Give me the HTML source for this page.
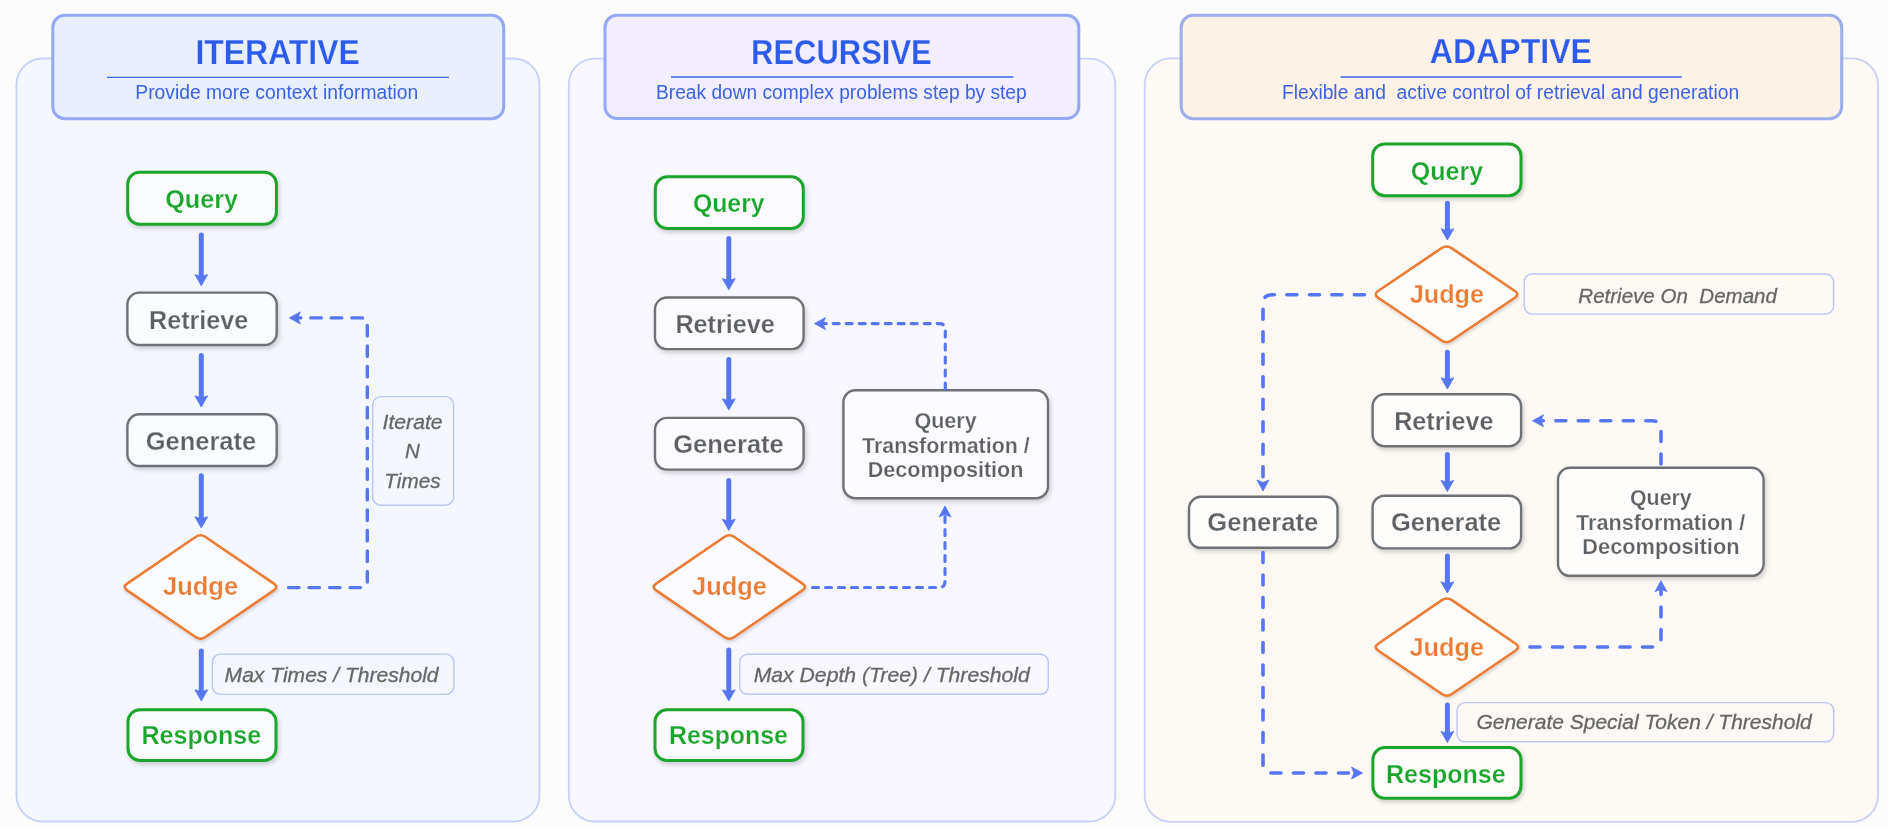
<!DOCTYPE html><html><head><meta charset="utf-8"><style>html,body{margin:0;padding:0;background:#ffffff;}svg{display:block;filter:blur(0.4px)}</style></head><body>
<svg width="1892" height="840" viewBox="0 0 1892 840">
<defs>
<filter id="sh" x="-10%" y="-10%" width="130%" height="140%"><feDropShadow dx="1.5" dy="2.5" stdDeviation="2" flood-color="#000" flood-opacity="0.18"/></filter>
<filter id="shd" x="-10%" y="-10%" width="130%" height="140%"><feDropShadow dx="1" dy="2" stdDeviation="1.8" flood-color="#000" flood-opacity="0.15"/></filter>
</defs>
<rect x="0" y="0" width="1887" height="830" fill="#fcfcfc"/>
<rect x="16.5" y="58.5" width="523.0" height="763.0" rx="26" fill="#f4f7ff" stroke="#c6d1fb" stroke-width="1.8"/>
<rect x="568.8" y="58.6" width="546.5" height="762.9" rx="26" fill="#f8f6ff" stroke="#c6d1fb" stroke-width="1.8"/>
<rect x="1144.7" y="58.4" width="733.3" height="763.4" rx="26" fill="#fdf9f4" stroke="#c8d0f4" stroke-width="1.8"/>
<rect x="52.8" y="15.3" width="450.9" height="103.4" rx="12" fill="#e9efff" stroke="#93a8f6" stroke-width="3"/>
<rect x="605" y="15.3" width="473.8" height="103.2" rx="12" fill="#f2edff" stroke="#93a8f6" stroke-width="3"/>
<rect x="1181.2" y="15.3" width="660.5" height="103.4" rx="12" fill="#fcf2e5" stroke="#9badea" stroke-width="3"/>
<line x1="107" y1="77.3" x2="449" y2="77.3" stroke="#3d66e8" stroke-width="1.3"/>
<line x1="671" y1="77.0" x2="1013.5" y2="77.0" stroke="#3d66e8" stroke-width="1.3"/>
<line x1="1340.5" y1="77.0" x2="1681.8" y2="77.0" stroke="#3d66e8" stroke-width="1.3"/>
<rect x="127.7" y="172.2" width="148.7" height="52.1" rx="12" fill="#fbfcff" stroke="#1aa52b" stroke-width="3.0" filter="url(#sh)"/>
<rect x="127.4" y="292.6" width="149.3" height="52.4" rx="12" fill="#fbfcff" stroke="#6e7174" stroke-width="2.4" filter="url(#sh)"/>
<rect x="127.4" y="414.3" width="149.3" height="51.7" rx="12" fill="#fbfcff" stroke="#6e7174" stroke-width="2.4" filter="url(#sh)"/>
<rect x="128.0" y="709.7" width="148.0" height="50.7" rx="12" fill="#fbfcff" stroke="#1aa52b" stroke-width="3.0" filter="url(#sh)"/>
<rect x="655.3" y="176.8" width="148.0" height="51.7" rx="12" fill="#fcfbff" stroke="#1aa52b" stroke-width="3.0" filter="url(#sh)"/>
<rect x="655.0" y="297.5" width="148.6" height="51.6" rx="12" fill="#fcfbff" stroke="#6e7174" stroke-width="2.4" filter="url(#sh)"/>
<rect x="655.0" y="417.9" width="148.6" height="51.7" rx="12" fill="#fcfbff" stroke="#6e7174" stroke-width="2.4" filter="url(#sh)"/>
<rect x="655.0" y="709.8" width="148.0" height="50.7" rx="12" fill="#fcfbff" stroke="#1aa52b" stroke-width="3.0" filter="url(#sh)"/>
<rect x="843.4" y="390.3" width="204.6" height="107.9" rx="12" fill="#fcfbff" stroke="#6e7174" stroke-width="2.4" filter="url(#sh)"/>
<rect x="1372.7" y="143.9" width="148.3" height="51.8" rx="12" fill="#fefdfb" stroke="#1aa52b" stroke-width="3.0" filter="url(#sh)"/>
<rect x="1372.6" y="394.3" width="148.5" height="51.9" rx="12" fill="#fefdfb" stroke="#6e7174" stroke-width="2.4" filter="url(#sh)"/>
<rect x="1372.6" y="495.7" width="148.5" height="52.7" rx="12" fill="#fefdfb" stroke="#6e7174" stroke-width="2.4" filter="url(#sh)"/>
<rect x="1189.0" y="496.8" width="148.5" height="51.0" rx="12" fill="#fefdfb" stroke="#6e7174" stroke-width="2.4" filter="url(#sh)"/>
<rect x="1558.0" y="467.8" width="205.6" height="108.0" rx="12" fill="#fefdfb" stroke="#6e7174" stroke-width="2.4" filter="url(#sh)"/>
<rect x="1372.9" y="747.6" width="148.1" height="50.7" rx="12" fill="#fefdfb" stroke="#1aa52b" stroke-width="3.0" filter="url(#sh)"/>
<path d="M195.54,536.98 Q200.50,533.60 205.46,536.98 L273.84,583.62 Q278.80,587.00 273.84,590.38 L205.46,637.02 Q200.50,640.40 195.54,637.02 L127.16,590.38 Q122.20,587.00 127.16,583.62 Z" fill="#fbfcff" stroke="#ec7c34" stroke-width="2.6" stroke-linejoin="round" filter="url(#shd)"/>
<path d="M724.35,536.99 Q729.30,533.60 734.25,536.99 L802.45,583.61 Q807.40,587.00 802.45,590.39 L734.25,637.01 Q729.30,640.40 724.35,637.01 L656.15,590.39 Q651.20,587.00 656.15,583.61 Z" fill="#fcfbff" stroke="#ec7c34" stroke-width="2.6" stroke-linejoin="round" filter="url(#shd)"/>
<path d="M1441.53,248.16 Q1446.50,244.80 1451.47,248.16 L1514.83,290.99 Q1519.80,294.35 1514.83,297.71 L1451.47,340.54 Q1446.50,343.90 1441.53,340.54 L1378.17,297.71 Q1373.20,294.35 1378.17,290.99 Z" fill="#fefdfb" stroke="#ec7c34" stroke-width="2.6" stroke-linejoin="round" filter="url(#shd)"/>
<path d="M1441.94,600.18 Q1446.90,596.80 1451.86,600.18 L1515.64,643.72 Q1520.60,647.10 1515.64,650.48 L1451.86,694.02 Q1446.90,697.40 1441.94,694.02 L1378.16,650.48 Q1373.20,647.10 1378.16,643.72 Z" fill="#fefdfb" stroke="#ec7c34" stroke-width="2.6" stroke-linejoin="round" filter="url(#shd)"/>
<rect x="212.4" y="654.1" width="241.5" height="40.3" rx="8" fill="none" stroke="#b9c6f7" stroke-width="1.4"/>
<rect x="372.7" y="396.6" width="80.9" height="108.6" rx="8" fill="none" stroke="#b9c6f7" stroke-width="1.4"/>
<rect x="739.7" y="654.2" width="308.6" height="40.1" rx="8" fill="none" stroke="#b9c6f7" stroke-width="1.4"/>
<rect x="1524.2" y="274.0" width="309.4" height="40.1" rx="8" fill="none" stroke="#b9c6f7" stroke-width="1.4"/>
<rect x="1457.0" y="702.6" width="376.7" height="39.2" rx="8" fill="none" stroke="#b9c6f7" stroke-width="1.4"/>
<line x1="201.3" y1="235.1" x2="201.3" y2="279.8" stroke="#5676f2" stroke-width="5" stroke-linecap="round"/>
<path d="M201.30,285.80 L194.90,274.60 L201.30,276.60 L207.70,274.60 Z" fill="#5676f2" stroke="#5676f2" stroke-width="0.8" stroke-linejoin="round"/>
<line x1="201.3" y1="355.5" x2="201.3" y2="401.0" stroke="#5676f2" stroke-width="5" stroke-linecap="round"/>
<path d="M201.30,407.00 L194.90,395.80 L201.30,397.80 L207.70,395.80 Z" fill="#5676f2" stroke="#5676f2" stroke-width="0.8" stroke-linejoin="round"/>
<line x1="201.3" y1="475.8" x2="201.3" y2="522.0" stroke="#5676f2" stroke-width="5" stroke-linecap="round"/>
<path d="M201.30,528.00 L194.90,516.80 L201.30,518.80 L207.70,516.80 Z" fill="#5676f2" stroke="#5676f2" stroke-width="0.8" stroke-linejoin="round"/>
<line x1="201.3" y1="651.0" x2="201.3" y2="695.0" stroke="#5676f2" stroke-width="5" stroke-linecap="round"/>
<path d="M201.30,701.00 L194.90,689.80 L201.30,691.80 L207.70,689.80 Z" fill="#5676f2" stroke="#5676f2" stroke-width="0.8" stroke-linejoin="round"/>
<line x1="728.8" y1="238.5" x2="728.8" y2="283.8" stroke="#5676f2" stroke-width="5" stroke-linecap="round"/>
<path d="M728.80,289.80 L722.40,278.60 L728.80,280.60 L735.20,278.60 Z" fill="#5676f2" stroke="#5676f2" stroke-width="0.8" stroke-linejoin="round"/>
<line x1="728.8" y1="359.5" x2="728.8" y2="404.0" stroke="#5676f2" stroke-width="5" stroke-linecap="round"/>
<path d="M728.80,410.00 L722.40,398.80 L728.80,400.80 L735.20,398.80 Z" fill="#5676f2" stroke="#5676f2" stroke-width="0.8" stroke-linejoin="round"/>
<line x1="728.8" y1="480.5" x2="728.8" y2="524.5" stroke="#5676f2" stroke-width="5" stroke-linecap="round"/>
<path d="M728.80,530.50 L722.40,519.30 L728.80,521.30 L735.20,519.30 Z" fill="#5676f2" stroke="#5676f2" stroke-width="0.8" stroke-linejoin="round"/>
<line x1="728.8" y1="650.0" x2="728.8" y2="695.0" stroke="#5676f2" stroke-width="5" stroke-linecap="round"/>
<path d="M728.80,701.00 L722.40,689.80 L728.80,691.80 L735.20,689.80 Z" fill="#5676f2" stroke="#5676f2" stroke-width="0.8" stroke-linejoin="round"/>
<line x1="1447.4" y1="203.2" x2="1447.4" y2="234.0" stroke="#5676f2" stroke-width="5" stroke-linecap="round"/>
<path d="M1447.40,240.00 L1441.00,228.80 L1447.40,230.80 L1453.80,228.80 Z" fill="#5676f2" stroke="#5676f2" stroke-width="0.8" stroke-linejoin="round"/>
<line x1="1447.4" y1="352.2" x2="1447.4" y2="383.0" stroke="#5676f2" stroke-width="5" stroke-linecap="round"/>
<path d="M1447.40,389.00 L1441.00,377.80 L1447.40,379.80 L1453.80,377.80 Z" fill="#5676f2" stroke="#5676f2" stroke-width="0.8" stroke-linejoin="round"/>
<line x1="1447.4" y1="454.5" x2="1447.4" y2="485.6" stroke="#5676f2" stroke-width="5" stroke-linecap="round"/>
<path d="M1447.40,491.60 L1441.00,480.40 L1447.40,482.40 L1453.80,480.40 Z" fill="#5676f2" stroke="#5676f2" stroke-width="0.8" stroke-linejoin="round"/>
<line x1="1447.4" y1="556.0" x2="1447.4" y2="587.0" stroke="#5676f2" stroke-width="5" stroke-linecap="round"/>
<path d="M1447.40,593.00 L1441.00,581.80 L1447.40,583.80 L1453.80,581.80 Z" fill="#5676f2" stroke="#5676f2" stroke-width="0.8" stroke-linejoin="round"/>
<line x1="1447.4" y1="704.9" x2="1447.4" y2="736.6" stroke="#5676f2" stroke-width="5" stroke-linecap="round"/>
<path d="M1447.40,742.60 L1441.00,731.40 L1447.40,733.40 L1453.80,731.40 Z" fill="#5676f2" stroke="#5676f2" stroke-width="0.8" stroke-linejoin="round"/>
<path d="M288.5,587.6 L361.30,587.60 Q367.3,587.6 367.30,581.60 L367.30,323.90 Q367.3,317.9 361.30,317.90 L298.30,317.90" fill="none" stroke="#5676f2" stroke-width="3.4" stroke-linecap="round" stroke-dasharray="10.5 10"/>
<path d="M289.30,317.90 L300.30,311.90 L297.80,317.90 L300.30,323.90 Z" fill="#5676f2" stroke="#5676f2" stroke-width="0.8" stroke-linejoin="round"/>
<path d="M945.3,389.0 L945.30,329.60 Q945.3,323.6 939.30,323.60 L823.40,323.60" fill="none" stroke="#5676f2" stroke-width="3.1" stroke-linecap="round" stroke-dasharray="6 7"/>
<path d="M814.40,323.60 L825.40,317.60 L822.90,323.60 L825.40,329.60 Z" fill="#5676f2" stroke="#5676f2" stroke-width="0.8" stroke-linejoin="round"/>
<path d="M812.5,587.5 L939.00,587.50 Q945.0,587.5 945.00,581.50 L945.00,515.00" fill="none" stroke="#5676f2" stroke-width="3.1" stroke-linecap="round" stroke-dasharray="6 7"/>
<path d="M945.00,506.00 L951.00,517.00 L945.00,514.50 L939.00,517.00 Z" fill="#5676f2" stroke="#5676f2" stroke-width="0.8" stroke-linejoin="round"/>
<path d="M1364.4,294.7 L1272.00,294.70 Q1263.0,294.7 1263.00,303.70 L1263.00,482.00" fill="none" stroke="#5676f2" stroke-width="3.6" stroke-linecap="round" stroke-dasharray="10 12.5"/>
<path d="M1263.00,491.00 L1257.00,480.00 L1263.00,482.50 L1269.00,480.00 Z" fill="#5676f2" stroke="#5676f2" stroke-width="0.8" stroke-linejoin="round"/>
<path d="M1263.0,552.5 L1263.00,764.00 Q1263.0,773.0 1272.00,773.00 L1353.50,773.00" fill="none" stroke="#5676f2" stroke-width="3.6" stroke-linecap="round" stroke-dasharray="10 12.5"/>
<path d="M1362.50,773.00 L1351.50,779.00 L1354.00,773.00 L1351.50,767.00 Z" fill="#5676f2" stroke="#5676f2" stroke-width="0.8" stroke-linejoin="round"/>
<path d="M1661.0,464.0 L1661.00,429.70 Q1661.0,420.7 1652.00,420.70 L1541.50,420.70" fill="none" stroke="#5676f2" stroke-width="3.6" stroke-linecap="round" stroke-dasharray="10 12.5"/>
<path d="M1532.50,420.70 L1543.50,414.70 L1541.00,420.70 L1543.50,426.70 Z" fill="#5676f2" stroke="#5676f2" stroke-width="0.8" stroke-linejoin="round"/>
<path d="M1530.0,647.0 L1652.00,647.00 Q1661.0,647.0 1661.00,638.00 L1661.00,589.70" fill="none" stroke="#5676f2" stroke-width="3.6" stroke-linecap="round" stroke-dasharray="10 12.5"/>
<path d="M1661.00,580.70 L1667.00,591.70 L1661.00,589.20 L1655.00,591.70 Z" fill="#5676f2" stroke="#5676f2" stroke-width="0.8" stroke-linejoin="round"/>
<text x="195.47" y="63.5" textLength="164.30" lengthAdjust="spacingAndGlyphs" font-family="Liberation Sans" font-weight="bold" font-style="normal" font-size="34.5" fill="#2c5bec" stroke="#e9efff" stroke-width="0.25" xml:space="preserve">ITERATIVE</text>
<text x="135.31" y="99.1" textLength="283.03" lengthAdjust="spacingAndGlyphs" font-family="Liberation Sans" font-weight="normal" font-style="normal" font-size="19.5" fill="#3c63e6" xml:space="preserve">Provide more context information</text>
<text x="751.10" y="63.8" textLength="180.66" lengthAdjust="spacingAndGlyphs" font-family="Liberation Sans" font-weight="bold" font-style="normal" font-size="34.5" fill="#2c5bec" stroke="#f2edff" stroke-width="0.25" xml:space="preserve">RECURSIVE</text>
<text x="656.02" y="99.2" textLength="370.67" lengthAdjust="spacingAndGlyphs" font-family="Liberation Sans" font-weight="normal" font-style="normal" font-size="19.5" fill="#3c63e6" xml:space="preserve">Break down complex problems step by step</text>
<text x="1429.87" y="63.4" textLength="162.04" lengthAdjust="spacingAndGlyphs" font-family="Liberation Sans" font-weight="bold" font-style="normal" font-size="34.5" fill="#2c5bec" stroke="#fcf2e5" stroke-width="0.25" xml:space="preserve">ADAPTIVE</text>
<text x="1282.01" y="99.2" textLength="457.15" lengthAdjust="spacingAndGlyphs" font-family="Liberation Sans" font-weight="normal" font-style="normal" font-size="19.5" fill="#3c63e6" xml:space="preserve">Flexible and  active control of retrieval and generation</text>
<text x="165.20" y="207.6" textLength="72.95" lengthAdjust="spacingAndGlyphs" font-family="Liberation Sans" font-weight="bold" font-style="normal" font-size="26" fill="#1aa52b" stroke="#fbfcff" stroke-width="0.25" xml:space="preserve">Query</text>
<text x="149.03" y="328.8" textLength="99.20" lengthAdjust="spacingAndGlyphs" font-family="Liberation Sans" font-weight="bold" font-style="normal" font-size="26" fill="#5d6064" stroke="#fbfcff" stroke-width="0.25" xml:space="preserve">Retrieve</text>
<text x="145.70" y="450.0" textLength="110.44" lengthAdjust="spacingAndGlyphs" font-family="Liberation Sans" font-weight="bold" font-style="normal" font-size="26" fill="#5d6064" stroke="#fbfcff" stroke-width="0.25" xml:space="preserve">Generate</text>
<text x="163.00" y="594.8" textLength="75.07" lengthAdjust="spacingAndGlyphs" font-family="Liberation Sans" font-weight="bold" font-style="normal" font-size="26" fill="#ec7c34" stroke="#fbfcff" stroke-width="0.25" xml:space="preserve">Judge</text>
<text x="141.54" y="744.0" textLength="119.52" lengthAdjust="spacingAndGlyphs" font-family="Liberation Sans" font-weight="bold" font-style="normal" font-size="26" fill="#1aa52b" stroke="#fbfcff" stroke-width="0.25" xml:space="preserve">Response</text>
<text x="224.60" y="682.4" textLength="213.98" lengthAdjust="spacingAndGlyphs" font-family="Liberation Sans" font-weight="normal" font-style="italic" font-size="20.5" fill="#676767" stroke="#676767" stroke-width="0.3" xml:space="preserve">Max Times / Threshold</text>
<text x="382.50" y="429.3" textLength="60.13" lengthAdjust="spacingAndGlyphs" font-family="Liberation Sans" font-weight="normal" font-style="italic" font-size="20.5" fill="#676767" stroke="#676767" stroke-width="0.3" xml:space="preserve">Iterate</text>
<text x="405.00" y="458.0" textLength="14.81" lengthAdjust="spacingAndGlyphs" font-family="Liberation Sans" font-weight="normal" font-style="italic" font-size="20.5" fill="#676767" stroke="#676767" stroke-width="0.3" xml:space="preserve">N</text>
<text x="384.39" y="487.5" textLength="56.24" lengthAdjust="spacingAndGlyphs" font-family="Liberation Sans" font-weight="normal" font-style="italic" font-size="20.5" fill="#676767" stroke="#676767" stroke-width="0.3" xml:space="preserve">Times</text>
<text x="692.90" y="211.7" textLength="71.75" lengthAdjust="spacingAndGlyphs" font-family="Liberation Sans" font-weight="bold" font-style="normal" font-size="26" fill="#1aa52b" stroke="#fcfbff" stroke-width="0.25" xml:space="preserve">Query</text>
<text x="675.43" y="332.5" textLength="99.41" lengthAdjust="spacingAndGlyphs" font-family="Liberation Sans" font-weight="bold" font-style="normal" font-size="26" fill="#5d6064" stroke="#fcfbff" stroke-width="0.25" xml:space="preserve">Retrieve</text>
<text x="673.30" y="453.1" textLength="110.44" lengthAdjust="spacingAndGlyphs" font-family="Liberation Sans" font-weight="bold" font-style="normal" font-size="26" fill="#5d6064" stroke="#fcfbff" stroke-width="0.25" xml:space="preserve">Generate</text>
<text x="692.00" y="594.5" textLength="74.87" lengthAdjust="spacingAndGlyphs" font-family="Liberation Sans" font-weight="bold" font-style="normal" font-size="26" fill="#ec7c34" stroke="#fcfbff" stroke-width="0.25" xml:space="preserve">Judge</text>
<text x="669.04" y="744.0" textLength="118.91" lengthAdjust="spacingAndGlyphs" font-family="Liberation Sans" font-weight="bold" font-style="normal" font-size="26" fill="#1aa52b" stroke="#fcfbff" stroke-width="0.25" xml:space="preserve">Response</text>
<text x="753.70" y="681.7" textLength="276.14" lengthAdjust="spacingAndGlyphs" font-family="Liberation Sans" font-weight="normal" font-style="italic" font-size="20.5" fill="#676767" stroke="#676767" stroke-width="0.3" xml:space="preserve">Max Depth (Tree) / Threshold</text>
<text x="914.40" y="428.1" textLength="62.33" lengthAdjust="spacingAndGlyphs" font-family="Liberation Sans" font-weight="bold" font-style="normal" font-size="22.5" fill="#5d6064" stroke="#fcfbff" stroke-width="0.25" xml:space="preserve">Query</text>
<text x="862.00" y="452.9" textLength="167.72" lengthAdjust="spacingAndGlyphs" font-family="Liberation Sans" font-weight="bold" font-style="normal" font-size="22.5" fill="#5d6064" stroke="#fcfbff" stroke-width="0.25" xml:space="preserve">Transformation /</text>
<text x="867.64" y="476.5" textLength="155.85" lengthAdjust="spacingAndGlyphs" font-family="Liberation Sans" font-weight="bold" font-style="normal" font-size="22.5" fill="#5d6064" stroke="#fcfbff" stroke-width="0.25" xml:space="preserve">Decomposition</text>
<text x="1410.70" y="179.7" textLength="72.45" lengthAdjust="spacingAndGlyphs" font-family="Liberation Sans" font-weight="bold" font-style="normal" font-size="26" fill="#1aa52b" stroke="#fefdfb" stroke-width="0.25" xml:space="preserve">Query</text>
<text x="1409.70" y="303.3" textLength="74.36" lengthAdjust="spacingAndGlyphs" font-family="Liberation Sans" font-weight="bold" font-style="normal" font-size="26" fill="#ec7c34" stroke="#fefdfb" stroke-width="0.25" xml:space="preserve">Judge</text>
<text x="1578.30" y="302.8" textLength="198.66" lengthAdjust="spacingAndGlyphs" font-family="Liberation Sans" font-weight="normal" font-style="italic" font-size="20.5" fill="#676767" stroke="#676767" stroke-width="0.3" xml:space="preserve">Retrieve On  Demand</text>
<text x="1394.23" y="429.7" textLength="99.20" lengthAdjust="spacingAndGlyphs" font-family="Liberation Sans" font-weight="bold" font-style="normal" font-size="26" fill="#5d6064" stroke="#fefdfb" stroke-width="0.25" xml:space="preserve">Retrieve</text>
<text x="1391.00" y="531.0" textLength="110.24" lengthAdjust="spacingAndGlyphs" font-family="Liberation Sans" font-weight="bold" font-style="normal" font-size="26" fill="#5d6064" stroke="#fefdfb" stroke-width="0.25" xml:space="preserve">Generate</text>
<text x="1207.30" y="531.3" textLength="110.94" lengthAdjust="spacingAndGlyphs" font-family="Liberation Sans" font-weight="bold" font-style="normal" font-size="26" fill="#5d6064" stroke="#fefdfb" stroke-width="0.25" xml:space="preserve">Generate</text>
<text x="1630.00" y="504.8" textLength="61.73" lengthAdjust="spacingAndGlyphs" font-family="Liberation Sans" font-weight="bold" font-style="normal" font-size="22.5" fill="#5d6064" stroke="#fefdfb" stroke-width="0.25" xml:space="preserve">Query</text>
<text x="1576.00" y="529.8" textLength="169.31" lengthAdjust="spacingAndGlyphs" font-family="Liberation Sans" font-weight="bold" font-style="normal" font-size="22.5" fill="#5d6064" stroke="#fefdfb" stroke-width="0.25" xml:space="preserve">Transformation /</text>
<text x="1582.33" y="553.8" textLength="157.17" lengthAdjust="spacingAndGlyphs" font-family="Liberation Sans" font-weight="bold" font-style="normal" font-size="22.5" fill="#5d6064" stroke="#fefdfb" stroke-width="0.25" xml:space="preserve">Decomposition</text>
<text x="1409.50" y="656.3" textLength="74.46" lengthAdjust="spacingAndGlyphs" font-family="Liberation Sans" font-weight="bold" font-style="normal" font-size="26" fill="#ec7c34" stroke="#fefdfb" stroke-width="0.25" xml:space="preserve">Judge</text>
<text x="1476.40" y="729.4" textLength="335.34" lengthAdjust="spacingAndGlyphs" font-family="Liberation Sans" font-weight="normal" font-style="italic" font-size="20.5" fill="#676767" stroke="#676767" stroke-width="0.3" xml:space="preserve">Generate Special Token / Threshold</text>
<text x="1386.04" y="783.3" textLength="119.52" lengthAdjust="spacingAndGlyphs" font-family="Liberation Sans" font-weight="bold" font-style="normal" font-size="26" fill="#1aa52b" stroke="#fefdfb" stroke-width="0.25" xml:space="preserve">Response</text>
</svg></body></html>
